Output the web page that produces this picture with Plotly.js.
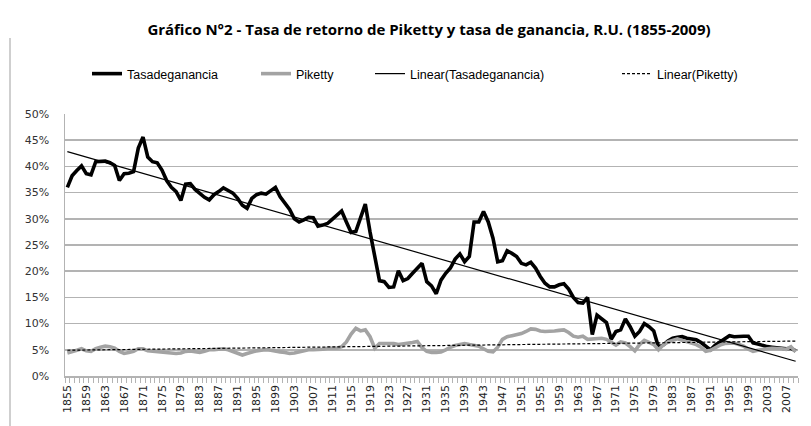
<!DOCTYPE html>
<html><head><meta charset="utf-8">
<script src="https://cdn.plot.ly/plotly-3.0.1.min.js"></script>
<style>html,body{margin:0;padding:0;background:#fff;}#chart{width:811px;height:426px;}</style>
</head><body><div id="chart"></div>
<script>
const years = [
1855,1856,1857,1858,1859,1860,1861,1862,1863,1864,
1865,1866,1867,1868,1869,1870,1871,1872,1873,1874,
1875,1876,1877,1878,1879,1880,1881,1882,1883,1884,
1885,1886,1887,1888,1889,1890,1891,1892,1893,1894,
1895,1896,1897,1898,1899,1900,1901,1902,1903,1904,
1905,1906,1907,1908,1909,1910,1911,1912,1913,1914,
1915,1916,1917,1918,1919,1920,1921,1922,1923,1924,
1925,1926,1927,1928,1929,1930,1931,1932,1933,1934,
1935,1936,1937,1938,1939,1940,1941,1942,1943,1944,
1945,1946,1947,1948,1949,1950,1951,1952,1953,1954,
1955,1956,1957,1958,1959,1960,1961,1962,1963,1964,
1965,1966,1967,1968,1969,1970,1971,1972,1973,1974,
1975,1976,1977,1978,1979,1980,1981,1982,1983,1984,
1985,1986,1987,1988,1989,1990,1991,1992,1993,1994,
1995,1996,1997,1998,1999,2000,2001,2002,2003,2004,
2005,2006,2007,2008,2009];

const tasaGanancia = [
36.0,38.2,39.2,40.1,38.6,38.4,40.9,41.0,41.0,40.7,
40.2,37.3,38.6,38.7,39.0,43.5,45.6,41.8,40.9,40.7,
39.3,37.3,36.0,35.2,33.5,36.6,36.7,35.6,34.8,34.1,
33.6,34.6,35.2,35.9,35.4,34.9,33.9,32.6,32.0,33.9,
34.6,34.9,34.7,35.4,36.0,34.2,33.0,31.8,30.0,29.4,
29.8,30.3,30.2,28.6,28.8,29.1,29.9,30.8,31.5,29.4,
27.4,27.6,30.3,32.8,27.5,22.5,18.2,18.0,16.9,17.0,
20.1,18.2,18.6,19.6,20.5,21.5,18.0,17.2,15.7,18.3,
19.6,20.6,22.3,23.3,21.8,22.8,29.4,29.4,31.4,29.4,
26.3,21.8,22.0,23.9,23.4,22.8,21.5,21.2,21.7,20.6,
19.0,17.7,17.0,17.0,17.4,17.6,16.6,15.0,14.0,13.9,
15.0,7.9,11.6,11.0,10.2,7.0,8.5,8.8,10.9,9.4,
7.6,8.5,10.0,9.4,8.6,5.5,5.9,6.7,7.2,7.4,
7.5,7.2,7.0,6.9,6.4,5.8,5.0,5.9,6.5,7.1,
7.7,7.5,7.6,7.6,7.6,6.3,6.1,5.8,5.6,5.5,
5.4,5.3,5.2,5.3,4.8];

const piketty = [
4.4,4.6,4.9,5.2,4.8,4.7,5.2,5.5,5.7,5.6,
5.3,4.7,4.3,4.5,4.7,5.2,5.2,4.8,4.7,4.6,
4.5,4.4,4.3,4.3,4.4,4.7,4.8,4.7,4.5,4.7,
5.0,5.0,5.1,5.2,5.0,4.7,4.3,4.0,4.3,4.6,
4.8,4.9,5.0,4.9,4.7,4.6,4.5,4.3,4.4,4.6,
4.9,5.0,5.0,5.0,5.1,5.3,5.3,5.3,5.6,6.5,
8.0,9.1,8.6,8.8,7.5,5.3,6.2,6.2,6.2,6.2,
6.0,6.1,6.2,6.4,6.6,5.4,4.7,4.5,4.5,4.6,
5.0,5.5,5.8,6.0,6.2,6.0,5.8,5.7,5.2,4.7,
4.6,5.5,7.0,7.5,7.7,7.9,8.1,8.5,9.0,8.9,
8.6,8.5,8.5,8.6,8.7,8.8,8.3,7.6,7.4,7.6,
7.0,7.1,7.2,7.2,7.0,6.5,5.9,6.5,6.3,5.6,
4.8,6.0,6.8,6.4,6.0,5.0,5.9,6.5,6.8,7.1,
6.8,6.5,6.3,6.0,5.5,4.7,4.9,5.4,5.9,6.2,
6.3,6.3,6.0,5.7,5.1,4.7,4.9,5.1,5.2,5.3,
5.3,5.2,5.1,5.6,4.6];

const tickYears = [1855,1859,1863,1867,1871,1875,1879,1883,1887,1891,1895,1899,1903,1907,1911,1915,1919,1923,1927,1931,1935,1939,1943,1947,1951,1955,1959,1963,1967,1971,1975,1979,1983,1987,1991,1995,1999,2003,2007];
const yTicks = [0,5,10,15,20,25,30,35,40,45,50];
const names = ['Tasadeganancia','Piketty','Linear(Tasadeganancia)','Linear(Piketty)'];

// least-squares trend line (as Excel "Linear" trendline)
function linearFit(ys){
  const n = ys.length; let sx=0, sy=0, sxx=0, sxy=0;
  for (let i=0;i<n;i++){ sx+=i; sy+=ys[i]; sxx+=i*i; sxy+=i*ys[i]; }
  const b = (n*sxy - sx*sy)/(n*sxx - sx*sx); const a = (sy - b*sx)/n;
  return ys.map((_,i)=>a+b*i);
}

const LEGFONT = 'Liberation Sans Narrow, Arial Narrow, Liberation Sans, sans-serif';
const traces = [
  {x: years, y: tasaGanancia, name: names[0], type:'scatter', mode:'lines', legend:'legend',
   line:{color:'#000000', width:3.6}},
  {x: years, y: piketty, name: names[1], type:'scatter', mode:'lines', legend:'legend2',
   line:{color:'#a3a3a3', width:3.6}},
  {x: years, y: linearFit(tasaGanancia), name: names[2], type:'scatter', mode:'lines', legend:'legend3',
   line:{color:'#000000', width:1.2}},
  {x: years, y: linearFit(piketty), name: names[3], type:'scatter', mode:'lines', legend:'legend4',
   line:{color:'#000000', width:1.2, dash:'3px,2px'}}
];

function leg(xpx){
  return {x: xpx/811, y: 1-74/426, xref:'container', yref:'container', xanchor:'left', yanchor:'middle',
    orientation:'h', bgcolor:'rgba(0,0,0,0)', font:{family:LEGFONT, size:12.5, color:'#000'}};
}

const layout = {
  width: 811, height: 426,
  margin: {l:65, r:13, t:114, b:50},
  paper_bgcolor:'#ffffff', plot_bgcolor:'#ffffff',
  showlegend: true,
  title: {text:'Gráfico N°2 - Tasa de retorno de Piketty y tasa de ganancia, R.U. (1855-2009)',
    x:429/811, xanchor:'center', y:1-30/426, yanchor:'middle', xref:'container', yref:'container',
    font:{family:'Open Sans, sans-serif', size:15, color:'#000', weight:'bold'}},
  legend: leg(87), legend2: leg(256), legend3: leg(370), legend4: leg(617),
  xaxis: {
    type:'linear', range:[1854.5, 2009.5], tickmode:'array', tickvals: tickYears,
    ticktext: tickYears.map(String), tickangle:-90, ticks:'', showgrid:false, zeroline:false,
    showline:true, linecolor:'#b3b3b3', linewidth:1.5, ticklabelstandoff:3,
    tickfont:{family:'DejaVu Sans, sans-serif', size:11, color:'#222'},
    minor:{tick0:1854.5, dtick:1, ticks:'outside', ticklen:5, tickcolor:'#b3b3b3', tickwidth:1, showgrid:false}
  },
  yaxis: {
    range:[0,50], tickmode:'array', tickvals: yTicks, ticktext: yTicks.map(v=>v+'%'),
    showgrid:true, gridcolor:'#b3b3b3', gridwidth:1.5, zeroline:false,
    showline:true, linecolor:'#b3b3b3', linewidth:1.5, ticks:'', ticklabelstandoff:12,
    tickfont:{family:'DejaVu Sans, sans-serif', size:11, color:'#333'}
  },
  shapes: [
    {type:'line', xref:'paper', yref:'paper', x0:(10-65)/733, x1:(10-65)/733, y0:-50/262, y1:(376-38)/262,
     line:{color:'#bfbfbf', width:1.5}}
  ]
};

Plotly.newPlot('chart', traces, layout, {displayModeBar:false, staticPlot:true});
</script>
</body></html>
